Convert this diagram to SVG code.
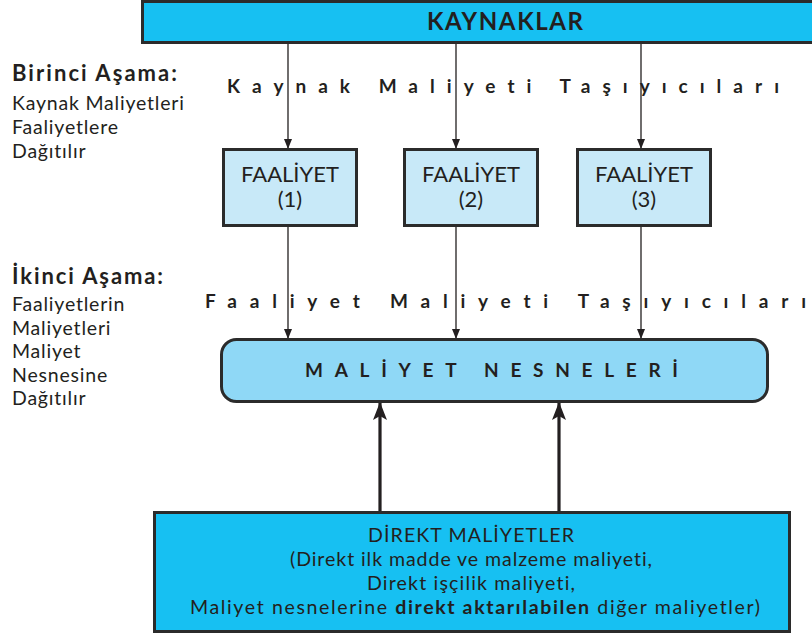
<svg xmlns="http://www.w3.org/2000/svg" width="812" height="635" viewBox="0 0 812 635">
  <style>
    text { font-family: Lato, "Open Sans", "Liberation Sans", sans-serif; fill: #231f20; font-variant-ligatures: none; }
    .box { stroke: #2b2b2b; stroke-width: 3; }
    .sources { fill: #17c0f2; }
    .activity { fill: #c8e9f8; }
    .objects { fill: #8fd8f6; }
    .direct { fill: #17c0f2; }
    .thin { stroke: #231f20; stroke-width: 1.3; fill: none; }
    .thick { stroke: #231f20; stroke-width: 3.2; fill: none; }
    .head { font-size: 22px; font-weight: bold; }
    .side { font-size: 19.5px; letter-spacing: 0.8px; }
    .label { font-size: 22px; text-anchor: middle; }
    .body { font-size: 19.6px; text-anchor: middle; }
    .spaced { font-size: 19px; font-weight: bold; }
  </style>
  <defs>
    <marker id="arrowSmall" markerWidth="10" markerHeight="10" refX="9" refY="5" orient="auto" markerUnits="userSpaceOnUse">
      <path d="M0,1 L10,5 L0,9 Z" fill="#231f20"/>
    </marker>
    <marker id="arrowLarge" markerWidth="18" markerHeight="14" refX="17" refY="7" orient="auto" markerUnits="userSpaceOnUse">
      <path d="M0,0 L18,7 L0,14 L4,7 Z" fill="#231f20"/>
    </marker>
  </defs>

  <!-- stage captions on the left -->
  <g id="stage1">
    <text class="head" x="12" y="81" textLength="165" lengthAdjust="spacing">Birinci Aşama:</text>
    <text class="side" x="12" y="110">Kaynak Maliyetleri</text>
    <text class="side" x="12" y="134">Faaliyetlere</text>
    <text class="side" x="12" y="158">Dağıtılır</text>
  </g>
  <g id="stage2">
    <text class="head" x="12" y="284" textLength="151" lengthAdjust="spacing">İkinci Aşama:</text>
    <text class="side" x="12" y="311">Faaliyetlerin</text>
    <text class="side" x="12" y="334.5">Maliyetleri</text>
    <text class="side" x="12" y="358">Maliyet</text>
    <text class="side" x="12" y="381.5">Nesnesine</text>
    <text class="side" x="12" y="405">Dağıtılır</text>
  </g>

  <!-- connectors -->
  <g id="connectors">
    <line class="thin" x1="288" y1="43" x2="288" y2="148" marker-end="url(#arrowSmall)"/>
    <line class="thin" x1="456" y1="43" x2="456" y2="148" marker-end="url(#arrowSmall)"/>
    <line class="thin" x1="641" y1="43" x2="641" y2="148" marker-end="url(#arrowSmall)"/>
    <line class="thin" x1="288" y1="227" x2="288" y2="338" marker-end="url(#arrowSmall)"/>
    <line class="thin" x1="456" y1="227" x2="456" y2="338" marker-end="url(#arrowSmall)"/>
    <line class="thin" x1="641" y1="227" x2="641" y2="338" marker-end="url(#arrowSmall)"/>
    <line class="thick" x1="380" y1="512" x2="380" y2="403" marker-end="url(#arrowLarge)"/>
    <line class="thick" x1="559" y1="512" x2="559" y2="403" marker-end="url(#arrowLarge)"/>
  </g>

  <!-- cost driver captions -->
  <g id="driver1">
    <text class="spaced" x="227" y="93" textLength="552" lengthAdjust="spacing">Kaynak Maliyeti Taşıyıcıları</text>
  </g>
  <g id="driver2">
    <text class="spaced" x="205" y="308" textLength="601" lengthAdjust="spacing">Faaliyet Maliyeti Taşıyıcıları</text>
  </g>

  <g id="sources">
    <rect class="box sources" x="142.5" y="1.5" width="680" height="41"/>
    <text x="505" y="30" text-anchor="middle" font-size="24" font-weight="bold" textLength="156" lengthAdjust="spacing">KAYNAKLAR</text>
  </g>

  <g id="activity1">
    <rect class="box activity" x="223.5" y="149.5" width="133" height="76"/>
    <text class="label" x="290" y="182">FAALİYET</text>
    <text class="label" x="290" y="207">(1)</text>
  </g>
  <g id="activity2">
    <rect class="box activity" x="404.5" y="149.5" width="133" height="76"/>
    <text class="label" x="471" y="182">FAALİYET</text>
    <text class="label" x="471" y="207">(2)</text>
  </g>
  <g id="activity3">
    <rect class="box activity" x="577.5" y="149.5" width="133" height="76"/>
    <text class="label" x="644" y="182">FAALİYET</text>
    <text class="label" x="644" y="207">(3)</text>
  </g>

  <g id="costObjects">
    <rect class="box objects" x="221.5" y="339.5" width="546" height="62" rx="15" ry="15"/>
    <text class="spaced" x="305" y="377" font-size="20" textLength="373" lengthAdjust="spacing">MALİYET NESNELERİ</text>
  </g>

  <g id="directCosts">
    <rect class="box direct" x="154.5" y="512.5" width="635" height="119"/>
    <text class="body" x="471" y="542" textLength="206" lengthAdjust="spacing">DİREKT MALİYETLER</text>
    <text class="body" x="471" y="566" textLength="362" lengthAdjust="spacing">(Direkt ilk madde ve malzeme maliyeti,</text>
    <text class="body" x="471" y="590" textLength="208" lengthAdjust="spacing">Direkt işçilik maliyeti,</text>
    <text class="body" x="475" y="614" textLength="570" lengthAdjust="spacing">Maliyet nesnelerine <tspan font-weight="bold">direkt aktarılabilen</tspan> diğer maliyetler)</text>
  </g>
</svg>
